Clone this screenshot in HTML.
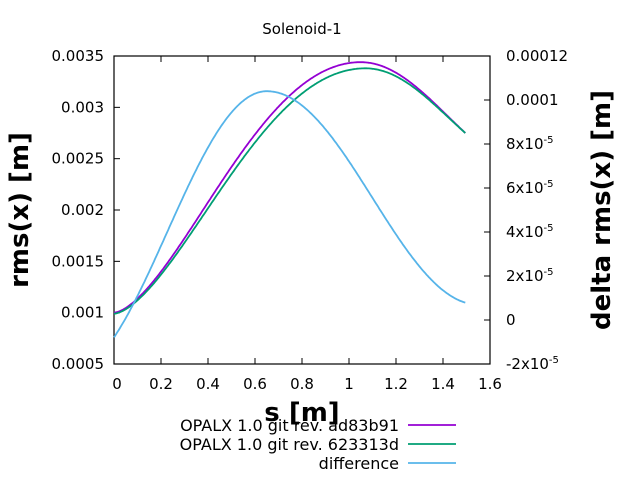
<!DOCTYPE html>
<html><head><meta charset="utf-8"><style>
body{margin:0;background:#fff;}
svg text{font-family:"DejaVu Sans","Liberation Sans",sans-serif;fill:#000;}
</style></head><body>
<svg id="s" width="640" height="480" xmlns="http://www.w3.org/2000/svg">
<text x="302" y="34" font-size="15" text-anchor="middle">Solenoid-1</text>
<rect x="114" y="56" width="376" height="308" fill="none" stroke="#000" stroke-width="1.2"/>
<g id="ticks" stroke="#000" stroke-width="1"></g>
<g id="labels" font-size="15"></g>
<text x="28" y="210" font-size="26" font-weight="bold" text-anchor="middle" transform="rotate(-90 28 210)">rms(x) [m]</text>
<text x="610" y="210" font-size="26" font-weight="bold" text-anchor="middle" transform="rotate(-90 610 210)">delta rms(x) [m]</text>
<text x="302" y="421" font-size="26" font-weight="bold" text-anchor="middle">s [m]</text>
<polyline id="pp" fill="none" stroke="#9400d3" stroke-width="1.8"/>
<polyline id="pg" fill="none" stroke="#009e73" stroke-width="1.8"/>
<polyline id="pb" fill="none" stroke="#56b4e9" stroke-width="1.8"/>
<g font-size="16" text-anchor="end">
<text x="399" y="431">OPALX 1.0 git rev. ad83b91</text>
<text x="399" y="450">OPALX 1.0 git rev. 623313d</text>
<text x="399" y="469">difference</text>
</g>
<line x1="408" y1="425" x2="456" y2="425" stroke="#9400d3" stroke-width="1.8"/>
<line x1="408" y1="444" x2="456" y2="444" stroke="#009e73" stroke-width="1.8"/>
<line x1="408" y1="463" x2="456" y2="463" stroke="#56b4e9" stroke-width="1.8"/>
</svg>
<script>
var ns="http://www.w3.org/2000/svg";
function el(p,t,a,txt){var e=document.createElementNS(ns,t);for(var k in a)e.setAttribute(k,a[k]);if(txt!==undefined)e.textContent=txt;document.getElementById(p).appendChild(e);}
var xs=function(s){return 114+235*s;};
var yl=function(v){return 364-(v-0.0005)/0.003*308;};
var yr=function(d){return 364-(d+2e-5)/14e-5*308;};
for(var i=0;i<=8;i++){var x=114+47*i;el("ticks","line",{x1:x,y1:364,x2:x,y2:358});el("ticks","line",{x1:x,y1:56,x2:x,y2:62});
el("labels","text",{x:x+(i==0?3:0),y:389,"text-anchor":"middle"},["0","0.2","0.4","0.6","0.8","1","1.2","1.4","1.6"][i]);}
var ll=["0.0005","0.001","0.0015","0.002","0.0025","0.003","0.0035"];
for(var i=0;i<7;i++){var y=364-i*51.33;el("ticks","line",{x1:114,y1:y,x2:120,y2:y});el("labels","text",{x:104,y:y+5,"text-anchor":"end"},ll[i]);}
var rl=["-2x10","0","2x10","4x10","6x10","8x10","0.0001","0.00012"];
for(var i=0;i<8;i++){var y=364-i*44;el("ticks","line",{x1:490,y1:y,x2:484,y2:y});
var t=document.createElementNS(ns,"text");t.setAttribute("x",506);t.setAttribute("y",y+5);t.textContent=rl[i];
if(rl[i].indexOf("x10")>0){var ts=document.createElementNS(ns,"tspan");ts.setAttribute("dy","-6");ts.setAttribute("font-size","10");ts.textContent="-5";t.appendChild(ts);}
document.getElementById("labels").appendChild(t);}
function bump(s,v0,vp,sp,v1,se){if(s<=sp){var tt=Math.pow(s/sp,0.8);return v0+(vp-v0)*(1-Math.cos(Math.PI*tt))/2;}
var w=(se-sp);var d=(vp-v1);var u=(s-sp)/w;return vp-d*(1-Math.cos(Math.PI*u*0.6))/(1-Math.cos(Math.PI*0.6));}
function line(id,f,y){var p=[];for(var s=0;s<=1.495001;s+=0.005){p.push(xs(s).toFixed(1)+","+y(f(s)).toFixed(1));}document.getElementById(id).setAttribute("points",p.join(" "));}
line("pp",function(s){return bump(s,0.001,0.00344,1.05,0.00275,1.495);},yl);
line("pg",function(s){return bump(s,0.00099,0.00338,1.07,0.00275,1.495);},yl);
line("pb",function(s){if(s<=0.65)return -2.47e-5+1.287e-4*(1-Math.cos(Math.PI*(s+0.2)/0.85))/2;return 1.04e-4-97e-6*(1-Math.cos(Math.PI*(s-0.65)/0.9))/2;},yr);
</script>
</body></html>
